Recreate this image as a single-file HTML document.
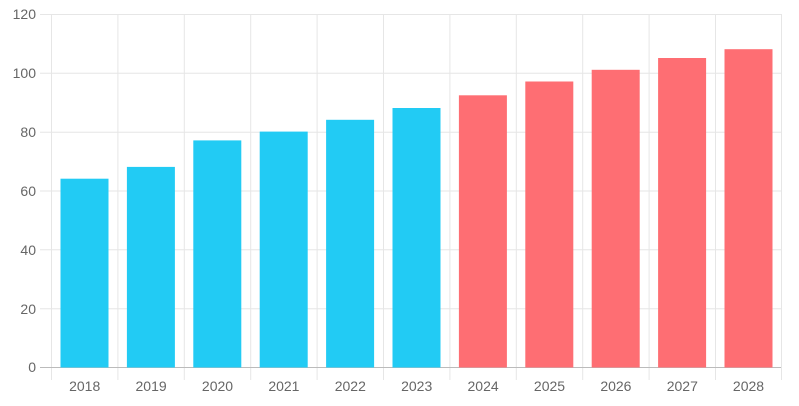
<!DOCTYPE html><html><head><style>body{margin:0;background:#fff}</style></head><body>
<svg width="799" height="401" xmlns="http://www.w3.org/2000/svg" font-family="Liberation Sans, sans-serif" font-size="14" fill="#666">
<g stroke="#e6e6e6" stroke-width="1">
<line x1="40" x2="781" y1="14.5" y2="14.5"/><line x1="40" x2="781" y1="73.3" y2="73.3"/><line x1="40" x2="781" y1="132.2" y2="132.2"/><line x1="40" x2="781" y1="191" y2="191"/><line x1="40" x2="781" y1="249.8" y2="249.8"/><line x1="40" x2="781" y1="308.7" y2="308.7"/>
<line x1="51.5" x2="51.5" y1="14" y2="380"/><line x1="117.9" x2="117.9" y1="14" y2="380"/><line x1="184.3" x2="184.3" y1="14" y2="380"/><line x1="250.7" x2="250.7" y1="14" y2="380"/><line x1="317.1" x2="317.1" y1="14" y2="380"/><line x1="383.5" x2="383.5" y1="14" y2="380"/><line x1="449.9" x2="449.9" y1="14" y2="380"/><line x1="516.3" x2="516.3" y1="14" y2="380"/><line x1="582.7" x2="582.7" y1="14" y2="380"/><line x1="649.1" x2="649.1" y1="14" y2="380"/><line x1="715.5" x2="715.5" y1="14" y2="380"/><line x1="781.5" x2="781.5" y1="14" y2="380"/>
</g>
<line x1="40" x2="781" y1="367.5" y2="367.5" stroke="#bbb"/>
<g fill="#22cbf4">
<rect x="60.5" y="178.7" width="48" height="188.8"/><rect x="126.9" y="166.9" width="48" height="200.6"/><rect x="193.3" y="140.4" width="48" height="227.1"/><rect x="259.7" y="131.6" width="48" height="235.9"/><rect x="326.1" y="119.8" width="48" height="247.7"/><rect x="392.5" y="108" width="48" height="259.5"/>
</g>
<g fill="#fe6e73">
<rect x="458.9" y="95.3" width="48" height="272.2"/><rect x="525.3" y="81.5" width="48" height="286"/><rect x="591.7" y="69.8" width="48" height="297.7"/><rect x="658.1" y="58" width="48" height="309.5"/><rect x="724.5" y="49.2" width="48" height="318.3"/>
</g>
<g text-anchor="end">
<text x="36" y="19">120</text><text x="36" y="78">100</text><text x="36" y="137">80</text><text x="36" y="196">60</text><text x="36" y="255">40</text><text x="36" y="314">20</text><text x="36" y="372">0</text>
</g>
<g text-anchor="middle">
<text x="84.7" y="391">2018</text><text x="151.1" y="391">2019</text><text x="217.5" y="391">2020</text><text x="283.9" y="391">2021</text><text x="350.3" y="391">2022</text><text x="416.7" y="391">2023</text><text x="483.1" y="391">2024</text><text x="549.5" y="391">2025</text><text x="615.9" y="391">2026</text><text x="682.3" y="391">2027</text><text x="748.5" y="391">2028</text>
</g>
</svg>
</body></html>
